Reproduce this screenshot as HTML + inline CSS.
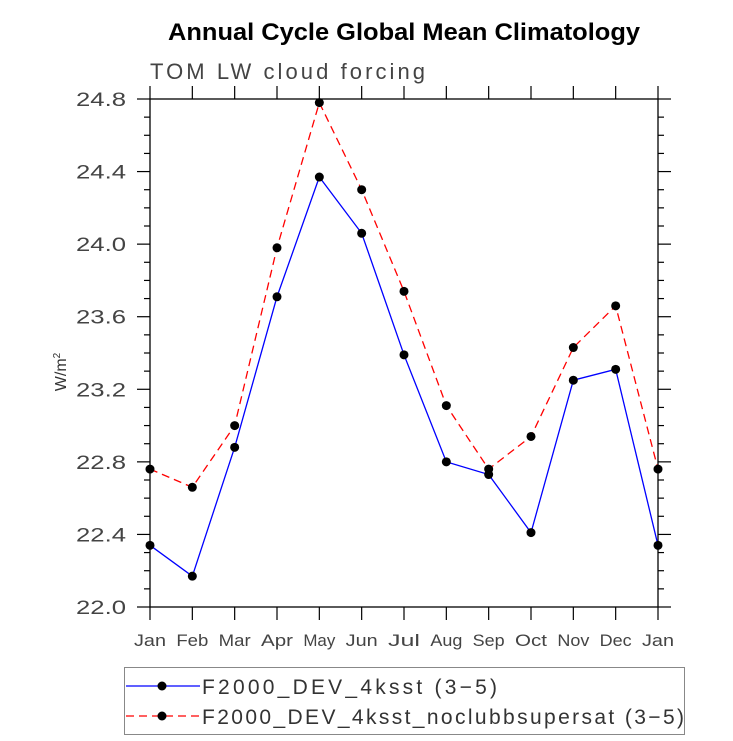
<!DOCTYPE html>
<html><head><meta charset="utf-8"><style>
body{margin:0;background:#fff;}
svg{display:block;font-family:"Liberation Sans",sans-serif;}
</style></head><body>
<svg id="chart" width="733" height="741">
<text x="168" y="40" textLength="472" lengthAdjust="spacingAndGlyphs" font-size="24" font-weight="bold">Annual Cycle Global Mean Climatology</text>
<text x="150" y="79" textLength="275" lengthAdjust="spacing" font-size="22" fill="#444">TOM LW cloud forcing</text>
<text transform="translate(66,372) rotate(-90)" text-anchor="middle" font-size="16" fill="#333">W/m<tspan dy="-6" font-size="10">2</tspan></text>
<g id="axes"></g>
<g id="series"></g>
<g>
<rect x="124.5" y="667.5" width="560" height="67" fill="none" stroke="#888" stroke-width="1"/>
<g>
<line x1="126" y1="686" x2="200" y2="686" stroke="#0000ff" stroke-width="1.3"/>
<circle cx="162" cy="686" r="4.5" fill="#000"/>
<text x="202" y="694" textLength="295" lengthAdjust="spacing" font-size="21" fill="#333">F2000_DEV_4ksst (3−5)</text></g>
<g>
<line x1="126" y1="716" x2="200" y2="716" stroke="#ff0000" stroke-width="1.3" stroke-dasharray="8,5"/>
<circle cx="162" cy="716" r="4.5" fill="#000"/>
<text x="202" y="724" textLength="482" lengthAdjust="spacing" font-size="21" fill="#333">F2000_DEV_4ksst_noclubbsupersat (3−5)</text></g>
</g>
</svg>
<script>
const months = ["Jan","Feb","Mar","Apr","May","Jun","Jul","Aug","Sep","Oct","Nov","Dec","Jan"];
const blueValues = [22.34,22.17,22.88,23.71,24.37,24.06,23.39,22.80,22.73,22.41,23.25,23.31,22.34];
const redValues = [22.76,22.66,23.00,23.98,24.78,24.30,23.74,23.11,22.76,22.94,23.43,23.66,22.76];
const yTicks = ["22.0","22.4","22.8","23.2","23.6","24.0","24.4","24.8"];

const NS="http://www.w3.org/2000/svg";
const L=150,R=658,T=99,B=607,yMin=22.0,yMax=24.8;
function xs(i){return L+(R-L)*i/(months.length-1);}
function ys(v){return B-(v-yMin)/(yMax-yMin)*(B-T);}
function mk(tag,attrs,parent){const e=document.createElementNS(NS,tag);for(const k in attrs)e.setAttribute(k,attrs[k]);parent.appendChild(e);return e;}
const axes=document.getElementById('axes');
const frame=mk('rect',{x:L,y:T,width:R-L,height:B-T,fill:'none',stroke:'#000','stroke-width':1.3},axes);


months.forEach((m,i)=>{
  const x=xs(i);
  mk('line',{x1:x,y1:B,x2:x,y2:B+13,stroke:'#000','stroke-width':1.2},axes);
  mk('line',{x1:x,y1:T,x2:x,y2:T-13,stroke:'#000','stroke-width':1.2},axes);
  const t=mk('text',{x:x,y:646,'text-anchor':'middle','font-size':17,fill:'#444',textLength:32,lengthAdjust:'spacingAndGlyphs'},axes);
  t.textContent=m;
  
  
});
for(let k=0;k<=28;k++){
  const v=yMin+k*0.1, y=ys(v), major=k%4===0, len=major?13:6;
  mk('line',{x1:L,y1:y,x2:L-len,y2:y,stroke:'#000','stroke-width':1.2},axes);
  mk('line',{x1:R,y1:y,x2:R+len,y2:y,stroke:'#000','stroke-width':1.2},axes);
}
yTicks.forEach(s=>{
  const t=mk('text',{x:76,y:ys(parseFloat(s))+7,'font-size':19,fill:'#444',textLength:50,lengthAdjust:'spacingAndGlyphs'},axes);
  t.textContent=s;
  
  
});
const series=document.getElementById('series');
function draw(vals,color,dash,name){
  const g=mk('g',{},series);
  
  
  const pts=vals.map((v,i)=>xs(i)+','+ys(v)).join(' ');
  const pl=mk('polyline',{points:pts,fill:'none',stroke:color,'stroke-width':1.3},g);
  if(dash)pl.setAttribute('stroke-dasharray',dash);
  vals.forEach((v,i)=>{
    const c=mk('circle',{cx:xs(i),cy:ys(v),r:4.5,fill:'#000'},g);
    
    
  });
}
draw(blueValues,'#0000ff',null,'series-f2000-dev-4ksst');
draw(redValues,'#ff0000','8,5','series-noclubbsupersat');
</script>
</body></html>
